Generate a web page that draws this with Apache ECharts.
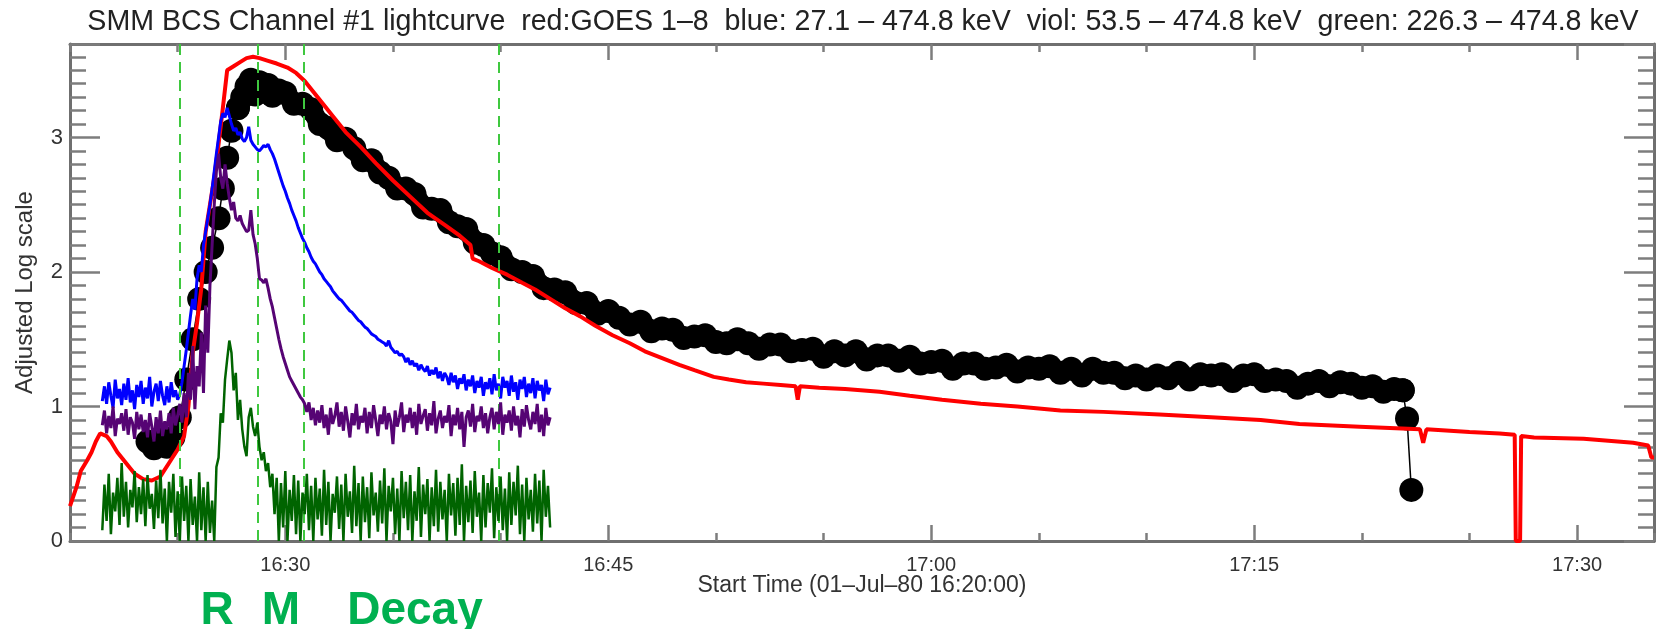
<!DOCTYPE html>
<html>
<head>
<meta charset="utf-8">
<script src="https://cdn.jsdelivr.net/npm/echarts@6/dist/echarts.min.js"></script>
<style>
html,body{margin:0;padding:0;background:#fff;}
#chart{width:1658px;height:629px;}
</style>
</head>
<body>
<div id="chart"></div>
<script>
// ---- axis settings (minutes after 16:20:00) ----
const X_MAX = 73.57;
const Y_MAX = 3.695;
const xTickValues = [10, 25, 40, 55, 70];
const xTickLabels = ['16:30', '16:45', '17:00', '17:15', '17:30'];
const yTickValues = [0, 1, 2, 3];
const phaseLines = [5.1, 8.73, 10.87, 19.93];
const phaseNames = ['R', 'M', 'Decay'];

// ---- BCS channel #1 (black dots): [minutes, value] ----
const blackSamples = [
  [3.6,0.74],[3.9,0.69],[4.2,0.75],[4.5,0.70],[4.8,0.77],[5.1,0.92],[5.4,1.20],[5.7,1.50],[6.0,1.80],[6.3,2.00],
  [6.6,2.18],[6.9,2.40],[7.1,2.62],[7.3,2.85],[7.5,3.05],[7.8,3.22],
  [8.0,3.30],[8.2,3.38],[8.4,3.43],[8.6,3.32],[8.8,3.41],[9.0,3.34],[9.2,3.39],[9.4,3.31],[9.7,3.35],
  [10.0,3.33],[10.4,3.25],[10.8,3.25],[11.2,3.21],[11.6,3.10],[12.0,3.07],[12.4,2.98],[12.8,2.99],[13.2,2.92],[13.6,2.83],
  [14.0,2.83],[14.4,2.74],[14.8,2.70],[15.2,2.62],[15.6,2.62],[16.0,2.58],[16.4,2.48],[16.8,2.47],[17.2,2.46],[17.6,2.37],
  [18.0,2.34],[18.4,2.32],[18.8,2.22],[19.2,2.20],[19.6,2.14],
  [20.0,2.11],[20.5,2.02],[21.0,2.00],[21.5,1.97],[22.0,1.88],[22.5,1.87],[23.0,1.85],[23.5,1.77],[24.0,1.77],[24.5,1.69],
  [25.0,1.71],[25.5,1.66],[26.0,1.61],[26.5,1.63],[27.0,1.56],[27.5,1.58],[28.0,1.57],[28.5,1.51],[29.0,1.52],[29.5,1.53],
  [30.0,1.48],[30.5,1.47],[31.0,1.50],[31.5,1.47],[32.0,1.43],[32.5,1.46],[33.0,1.46],[33.5,1.41],[34.0,1.42],[34.5,1.43],
  [35.0,1.37],[35.5,1.41],[36.0,1.38],[36.5,1.41],[37.0,1.35],[37.5,1.38],[38.0,1.38],[38.5,1.34],[39.0,1.37],[39.5,1.32],
  [40.0,1.33],[40.5,1.34],[41.0,1.28],[41.5,1.32],[42.0,1.32],[42.5,1.28],[43.0,1.29],[43.5,1.31],[44.0,1.26],[44.5,1.29],
  [45.0,1.28],[45.5,1.30],[46.0,1.25],[46.5,1.28],[47.0,1.23],[47.5,1.28],[48.0,1.25],[48.5,1.25],[49.0,1.21],[49.5,1.23],
  [50.0,1.20],[50.5,1.23],[51.0,1.21],[51.5,1.25],[52.0,1.20],[52.5,1.24],[53.0,1.23],[53.5,1.24],[54.0,1.19],[54.5,1.23],
  [55.0,1.24],[55.5,1.19],[56.0,1.20],[56.5,1.19],[57.0,1.14],[57.5,1.17],[58.0,1.19],[58.5,1.15],[59.0,1.18],[59.5,1.17],
  [60.0,1.14],[60.5,1.15],[61.0,1.11],[61.5,1.13],[61.9,1.12],[62.1,0.91],[62.3,0.38]
];

// ---- GOES 1-8 A (red): [minutes, value] ----
const redSamples = [
  [0.0,0.26],[0.3,0.40],[0.5,0.52],[0.8,0.60],[1.0,0.66],[1.2,0.74],[1.4,0.80],[1.7,0.78],[1.9,0.74],[2.2,0.66],
  [2.6,0.58],[3.0,0.50],[3.4,0.46],[3.8,0.45],[4.2,0.48],[4.6,0.58],[5.0,0.68],[5.3,0.78],[5.5,1.00],[5.7,1.40],
  [5.9,1.62],[6.1,1.88],[6.3,2.30],[6.5,2.50],[6.7,2.70],[6.9,2.95],[7.1,3.22],[7.3,3.50],[7.6,3.53],[7.9,3.56],
  [8.2,3.59],[8.5,3.60],[8.8,3.59],[9.2,3.57],[9.6,3.55],[10.1,3.52],[10.5,3.48],[10.9,3.42],[11.3,3.34],[11.7,3.26],
  [12.2,3.16],[12.8,3.04],[13.5,2.93],[14.2,2.81],[15.0,2.68],[15.8,2.56],[16.6,2.44],[17.4,2.35],[18.1,2.27],[18.6,2.20],
  [18.7,2.10],[19.0,2.08],[19.6,2.03],[20.3,1.98],[21.0,1.92],[21.6,1.87],[22.3,1.80],[23.0,1.73],[23.7,1.67],[24.4,1.60],
  [25.2,1.53],[26.0,1.47],[26.7,1.41],[27.5,1.36],[28.3,1.31],[29.0,1.27],[29.9,1.22],[30.6,1.20],[31.4,1.18],[32.2,1.17],
  [33.0,1.16],[33.7,1.15],[33.8,1.05],[33.9,1.15],[34.8,1.14],[36.0,1.13],[37.6,1.11],[39.0,1.08],[40.5,1.05],[42.3,1.02],
  [44.0,1.00],[46.0,0.97],[48.0,0.96],[50.6,0.94],[53.0,0.92],[55.3,0.90],[57.1,0.87],[59.9,0.85],[62.7,0.83],[62.85,0.73],
  [63.0,0.83],[65.0,0.81],[66.4,0.80],[67.1,0.79],[67.15,0.00],[67.35,0.00],[67.4,0.78],[68.0,0.77],[70.3,0.76],[72.6,0.73],
  [73.3,0.71],[73.45,0.62],[73.57,0.62]
];

// ---- HXRBS energy bands, sampled every 0.1 min from 1.5 min ----
const bandStart = 1.5;
const bandStep = 0.1;
const blueValue = [
  1.04,1.15,1.02,1.18,1.08,0.99,1.20,1.06,1.13,1.01,
  1.17,1.05,1.21,1.03,1.12,0.98,1.16,1.07,1.19,1.02,
  1.14,1.06,1.22,1.00,1.11,1.17,1.04,1.19,1.08,1.01,
  1.15,1.03,1.18,1.07,1.12,1.05,1.09,1.18,1.30,1.42,
  1.55,1.68,1.80,1.72,1.95,2.05,2.00,2.20,2.30,2.40,
  2.50,2.62,2.75,2.88,3.00,3.12,3.18,3.15,3.22,3.16,
  3.10,3.05,3.07,3.02,3.04,2.99,2.97,3.00,3.08,2.98,
  2.95,2.93,2.91,2.90,2.92,2.94,2.93,2.95,2.91,2.88,
  2.84,2.79,2.74,2.69,2.64,2.60,2.55,2.51,2.46,2.42,
  2.38,2.33,2.29,2.25,2.22,2.18,2.15,2.11,2.08,2.06,
  2.03,2.00,1.98,1.95,1.93,1.91,1.89,1.86,1.84,1.82,
  1.80,1.79,1.77,1.75,1.73,1.71,1.70,1.68,1.66,1.64,
  1.63,1.61,1.59,1.58,1.56,1.54,1.53,1.52,1.50,1.49,
  1.48,1.47,1.45,1.49,1.44,1.42,1.40,1.41,1.38,1.39,
  1.37,1.33,1.36,1.31,1.34,1.30,1.32,1.27,1.31,1.28,
  1.26,1.30,1.23,1.27,1.24,1.29,1.21,1.26,1.19,1.25,
  1.22,1.16,1.25,1.18,1.23,1.13,1.21,1.17,1.24,1.12,
  1.20,1.15,1.23,1.10,1.19,1.14,1.22,1.08,1.18,1.13,
  1.21,1.09,1.24,1.12,1.17,1.06,1.22,1.14,1.19,1.08,
  1.23,1.11,1.18,1.05,1.20,1.13,1.22,1.07,1.17,1.10,
  1.21,1.06,1.19,1.12,1.16,1.04,1.20,1.09,1.14];
const violetValue = [
  0.86,0.97,0.80,0.93,0.84,1.00,0.78,0.91,0.87,0.95,
  0.82,0.98,0.79,0.92,0.88,0.76,0.96,0.83,0.94,0.81,
  0.90,0.77,0.95,0.85,0.74,0.92,0.80,0.97,0.78,0.89,
  0.83,0.95,0.80,0.99,0.86,0.93,1.02,0.88,1.10,0.92,
  1.25,1.05,1.45,0.98,1.30,1.15,1.55,1.10,1.75,1.40,
  1.90,2.20,2.50,2.75,2.88,2.70,2.62,2.80,2.66,2.55,
  2.46,2.52,2.40,2.38,2.42,2.36,2.33,2.30,2.31,2.46,
  2.28,2.21,2.10,1.95,1.94,1.92,1.95,1.88,1.80,1.74,
  1.66,1.58,1.50,1.43,1.37,1.32,1.27,1.22,1.19,1.16,
  1.13,1.10,1.07,1.05,1.02,0.96,1.03,0.90,0.99,0.86,
  0.97,0.88,1.01,0.84,0.94,0.79,0.99,0.87,0.93,1.03,
  0.85,0.96,0.82,1.00,0.89,0.77,0.95,0.86,1.02,0.83,
  0.93,0.88,0.99,0.80,0.96,0.84,1.01,0.90,0.78,0.94,
  0.87,1.00,0.83,0.95,0.89,0.72,0.97,0.85,0.92,1.03,
  0.81,0.94,0.88,0.99,0.84,0.96,0.79,1.02,0.87,0.93,
  0.98,0.82,0.95,0.86,1.04,0.80,0.91,0.97,0.84,0.93,
  0.88,1.01,0.78,0.94,0.86,0.99,0.83,0.96,0.70,0.92,
  0.97,0.85,1.02,0.81,0.93,0.89,1.00,0.84,0.95,0.80,
  0.92,0.99,0.83,0.96,0.87,1.03,0.79,0.94,0.88,0.97,
  0.82,1.00,0.86,0.93,0.77,0.98,0.85,1.01,0.90,0.83,
  0.96,0.87,1.02,0.81,0.94,0.78,0.99,0.86,0.92];
const greenValue = [
  0.08,0.42,0.15,0.50,0.05,0.36,0.22,0.47,0.12,0.58,
  0.18,0.44,0.10,0.38,0.25,0.52,0.14,0.40,0.20,0.46,
  0.11,0.49,0.24,0.35,0.09,0.45,0.17,0.53,0.13,0.39,
  0.00,0.44,0.21,0.50,0.03,0.37,0.00,0.48,0.15,0.41,
  0.00,0.46,0.12,0.33,0.00,0.51,0.08,0.40,0.00,0.44,
  0.06,0.30,0.00,0.55,0.62,0.95,0.88,1.20,1.35,1.49,
  1.40,1.12,1.25,0.90,1.05,0.83,0.70,0.63,0.92,0.99,
  0.85,0.78,0.88,0.70,0.60,0.66,0.52,0.58,0.40,0.50,
  0.20,0.47,0.00,0.43,0.10,0.52,0.00,0.38,0.15,0.49,
  0.05,0.45,0.00,0.36,0.20,0.50,0.08,0.41,0.00,0.47,
  0.16,0.39,0.04,0.53,0.12,0.44,0.00,0.35,0.21,0.48,
  0.09,0.42,0.00,0.50,0.18,0.37,0.06,0.56,0.11,0.43,
  0.00,0.48,0.14,0.40,0.02,0.51,0.19,0.36,0.07,0.45,
  0.13,0.54,0.00,0.41,0.22,0.47,0.05,0.39,0.00,0.52,
  0.17,0.44,0.08,0.49,0.00,0.37,0.15,0.55,0.03,0.42,
  0.20,0.46,0.00,0.40,0.11,0.53,0.07,0.44,0.16,0.38,
  0.00,0.50,0.19,0.43,0.04,0.47,0.12,0.57,0.00,0.41,
  0.14,0.45,0.06,0.52,0.18,0.36,0.00,0.49,0.10,0.43,
  0.21,0.54,0.02,0.40,0.15,0.48,0.08,0.39,0.00,0.51,
  0.12,0.44,0.19,0.56,0.05,0.42,0.00,0.47,0.16,0.38,
  0.07,0.50,0.13,0.45,0.00,0.53,0.18,0.41,0.10];

const titleText = 'SMM BCS Channel #1 lightcurve  red:GOES 1\u20138  blue: 27.1 \u2013 474.8 keV  viol: 53.5 \u2013 474.8 keV  green: 226.3 \u2013 474.8 keV';
const xName = 'Start Time (01\u2013Jul\u201380 16:20:00)';
const yName = 'Adjusted Log scale';

// ---- build ----
function bandPairs(v) { return v.map((y, i) => [+(bandStart + i * bandStep).toFixed(2), y]); }
const riseEnd = blackSamples.findIndex(p => p[0] === 7.8);
const dropStart = blackSamples.length - 3;
const blackRise = blackSamples.slice(0, riseEnd + 1);
const blackBand = blackSamples.slice(riseEnd, dropStart + 1);
const blackDrop = blackSamples.slice(dropStart);

const FONT = "'Liberation Sans', Arial, sans-serif";
const AX = '#6f6f6f';
const TK = '#7d7d7d';

function xMajor(pos) {
  return {
    type: 'value', position: pos, gridIndex: 0, min: 0, max: X_MAX,
    axisLine: { show: true, onZero: false, lineStyle: { color: AX, width: 3 } },
    axisTick: { show: true, inside: true, length: 16, customValues: xTickValues, lineStyle: { color: TK, width: 2.5 } },
    axisLabel: { show: false },
    splitLine: { show: false }
  };
}
function xMinor(pos) {
  return {
    type: 'value', position: pos, gridIndex: 0, min: 0, max: X_MAX, interval: 5,
    axisLine: { show: false, onZero: false },
    axisTick: { show: true, inside: true, length: 8, lineStyle: { color: TK, width: 2.5 } },
    axisLabel: { show: false },
    splitLine: { show: false }
  };
}
function yAxisBase(pos, minor) {
  return {
    type: 'value', position: pos, gridIndex: 0,
    min: 0, max: Y_MAX, interval: minor ? 0.1 : 1,
    axisLine: { show: minor, onZero: false, lineStyle: { color: AX, width: 3 } },
    axisTick: { show: true, inside: true, length: minor ? 16 : 30, lineStyle: { color: TK, width: 2.5 } },
    axisLabel: { show: false },
    splitLine: { show: false }
  };
}

const xAxes = [xMajor('bottom'), xMinor('bottom'), xMajor('top'), xMinor('top')];
xAxes[0].axisLabel = {
  show: true, margin: 14, fontFamily: FONT, fontSize: 20, color: '#333',
  customValues: xTickValues,
  formatter: function (v) {
    const k = xTickValues.findIndex(t => Math.abs(t - v) < 1e-6);
    return k >= 0 ? xTickLabels[k] : '';
  }
};
xAxes[0].name = xName;
xAxes[0].nameLocation = 'middle';
xAxes[0].nameGap = 33;
xAxes[0].nameMoveOverlap = false;
xAxes[0].nameTextStyle = { fontFamily: FONT, fontSize: 23, color: '#333' };

const yAxes = [yAxisBase('left', true), yAxisBase('left', false), yAxisBase('right', true), yAxisBase('right', false)];
yAxes[1].axisLabel = {
  show: true, margin: 7, fontFamily: FONT, fontSize: 22, color: '#333',
  formatter: function (v) {
    return yTickValues.some(t => Math.abs(t - v) < 1e-6) ? String(Math.round(v)) : '';
  }
};
yAxes[0].name = yName;
yAxes[0].nameLocation = 'middle';
yAxes[0].nameGap = 33;
yAxes[0].nameRotate = 90;
yAxes[0].nameMoveOverlap = false;
yAxes[0].nameTextStyle = { fontFamily: FONT, fontSize: 24, color: '#333' };

const PHASE_STYLE = { fontFamily: FONT, fontSize: 46, fontWeight: 'bold', fill: '#00b050', align: 'center', verticalAlign: 'middle', textAlign: 'center', textVerticalAlign: 'middle' };
const DOT = { symbol: 'circle', symbolSize: 24, showSymbol: true, itemStyle: { color: '#000', borderWidth: 0 } };

const chart = echarts.init(document.getElementById('chart'), null, { renderer: 'canvas' });
chart.setOption({
  animation: false,
  backgroundColor: '#fff',
  title: {
    text: titleText, left: 858, top: 3, textAlign: 'center',
    textStyle: { fontFamily: FONT, fontSize: 28.6, fontWeight: 'normal', color: '#222' }
  },
  grid: { left: 70, right: 4, top: 44, bottom: 88, containLabel: false },
  xAxis: xAxes,
  yAxis: yAxes,
  series: [
    Object.assign({ name: 'BCS rise', type: 'line', data: blackRise, lineStyle: { color: '#000', width: 1.5 }, z: 2 }, DOT),
    Object.assign({ name: 'BCS', type: 'line', data: blackBand, lineStyle: { color: '#000', width: 20, join: 'round', cap: 'round' }, z: 2 }, DOT),
    Object.assign({ name: 'BCS end', type: 'line', data: blackDrop, lineStyle: { color: '#000', width: 1.5 }, z: 2 }, DOT),
    {
      name: 'GOES', type: 'line', data: redSamples, symbol: 'none',
      lineStyle: { color: '#ff0000', width: 4 }, z: 3
    },
    {
      name: 'blue', type: 'line', data: bandPairs(blueValue), symbol: 'none',
      lineStyle: { color: '#0000ff', width: 3 }, z: 4
    },
    {
      name: 'viol', type: 'line', data: bandPairs(violetValue), symbol: 'none',
      lineStyle: { color: '#560474', width: 3 }, z: 5
    },
    {
      name: 'green', type: 'line', data: bandPairs(greenValue), symbol: 'none',
      lineStyle: { color: '#006400', width: 2.5 }, z: 6
    },
    {
      name: 'phases', type: 'line', data: [], z: 10,
      markLine: {
        silent: true, symbol: 'none', label: { show: false },
        lineStyle: { color: '#3fc83f', width: 2, type: [11, 7] },
        data: phaseLines.map(v => ({ xAxis: v }))
      }
    }
  ],
  graphic: [
    { type: 'text', x: 217, y: 611, style: Object.assign({ text: phaseNames[0] }, PHASE_STYLE) },
    { type: 'text', x: 281, y: 611, style: Object.assign({ text: phaseNames[1] }, PHASE_STYLE) },
    { type: 'text', x: 415, y: 611, style: Object.assign({ text: phaseNames[2] }, PHASE_STYLE) }
  ]
});
</script>
</body>
</html>
